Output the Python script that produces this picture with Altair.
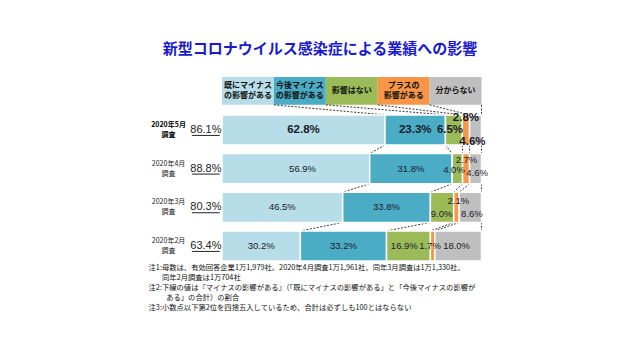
import altair as alt
import pandas as pd

# ---------------- data ----------------
title_text = "新型コロナウイルス感染症による業績への影響"
categories = ["既にマイナスの影響がある", "今後マイナスの影響がある", "影響はない",
              "プラスの影響がある", "分からない"]
header_labels = ["既にマイナス\nの影響がある", "今後マイナス\nの影響がある", "影響はない",
                 "プラスの\n影響がある", "分からない"]
colors = ["#b7dde8", "#4bacc6", "#9bbb59", "#f79646", "#bfbfbf"]
surveys = ["2020年5月\n調査", "2020年4月\n調査", "2020年3月\n調査", "2020年2月\n調査"]
minus_total = [86.1, 88.8, 80.3, 63.4]
already_minus = [62.8, 56.9, 46.5, 30.2]
future_minus = [23.3, 31.8, 33.8, 33.2]
no_effect = [6.5, 4.0, 9.0, 16.9]
plus_effect = [2.8, 2.7, 2.1, 1.7]
unknown = [4.6, 4.6, 8.6, 18.0]
series = [already_minus, future_minus, no_effect, plus_effect, unknown]
notes = [
    "注1:母数は、有効回答企業1万1,979社。2020年4月調査1万1,961社、同年3月調査は1万1,330社、",
    "同年2月調査は1万704社",
    "注2:下線の値は『マイナスの影響がある』（「既にマイナスの影響がある」と「今後マイナスの影響が",
    "ある」の合計）の割合",
    "注3:小数点以下第2位を四捨五入しているため、合計は必ずしも100とはならない",
]

# ---------------- layout (label nudges, in axis units) ----------------
label_dx = [[0, 0, -1.5, 0.0, -1.2],
            [2.6, 0, -1.3, 0.15, 0.6],
            [0, 0, -0.2, 0.75, 0.6],
            [0, 0, -1.6, -1.0, -0.6]]
label_dy = [[0, 0, 0, -0.31, 0.31],
            [0, 0, 0.03, -0.22, 0.12],
            [0, 0, 0.16, -0.16, 0.16],
            [0, 0, 0, 0, 0]]
BH = 0.39
HEAD_TOP, HEAD_BOT = -1.37, -0.65
FONT = "Noto Sans CJK JP"
NUM_FONT = "Liberation Sans Narrow, Arial Narrow, Liberation Sans, Noto Sans CJK JP"

xs = alt.Scale(domain=[-82.47, 157.99], nice=False, zero=False)
ys = alt.Scale(domain=[-3.155, 5.741], nice=False, zero=False, reverse=True)
cs = alt.Scale(domain=categories, range=colors)


def X(f):
    return alt.X(f, scale=xs, axis=None)


def Y(f):
    return alt.Y(f, scale=ys, axis=None)


# segments
seg_rows = []
for i in range(len(surveys)):
    start = 0.0
    for k, cat in enumerate(categories):
        v = series[k][i]
        seg_rows.append(dict(row=i, cat=cat, x0=start, x1=start + v,
                             y0=i - BH, y1=i + BH, label=f"{v:.1f}%",
                             lx=start + v / 2 + label_dx[i][k], ly=i + label_dy[i][k]))
        start += v
seg = pd.DataFrame(seg_rows)

# headers
head = pd.DataFrame(dict(cat=categories, label=header_labels,
                         x0=[20 * k for k in range(5)], x1=[20 * (k + 1) for k in range(5)],
                         xc=[20 * k + 10 for k in range(5)],
                         y0=HEAD_TOP, y1=HEAD_BOT,
                         yc=[(HEAD_TOP + HEAD_BOT) / 2 - (0.13 if "\n" in h else 0)
                             for h in header_labels]))

# connectors
conn_rows = []
first_bounds = []
c = 0.0
for k in range(5):
    c += series[k][0]
    first_bounds.append(c)
for k in range(5):
    conn_rows.append(dict(xa=20 * (k + 1), ya=HEAD_BOT, xb=first_bounds[k], yb=-BH))
for i in range(len(surveys) - 1):
    ca, cb = 0.0, 0.0
    for k in range(5):
        ca += series[k][i]
        cb += series[k][i + 1]
        conn_rows.append(dict(xa=ca, ya=i + BH, xb=cb, yb=i + 1 - BH))
conn = pd.DataFrame(conn_rows)

rowlab = pd.DataFrame(dict(row=list(range(4)), text=surveys, x=-20.6,
                           tot=[f"{t:.1f}%" for t in minus_total], tx=-6.2,
                           ux0=-11.6, ux1=-0.9,
                           y=[i - 0.13 for i in range(4)], ty=[i for i in range(4)],
                           uy=[i + 0.14 for i in range(4)]))

note_df = pd.DataFrame(dict(text=notes, x=[-28.3, -23.1, -28.3, -21.5, -28.3],
                            y=[3.57, 3.83, 4.09, 4.35, 4.60]))
title_df = pd.DataFrame(dict(text=[title_text], x=[37.8], y=[-2.09]))

# ---------------- layers ----------------
head_rect = alt.Chart(head).mark_rect().encode(
    x=X("x0:Q"), x2="x1", y=Y("y0:Q"), y2="y1",
    color=alt.Color("cat:N", scale=cs, legend=None))
head_text = alt.Chart(head).mark_text(font=FONT, fontSize=8, fontWeight="bold",
                                      lineBreak="\n", lineHeight=10, color="#111").encode(
    x=X("xc:Q"), y=Y("yc:Q"), text="label:N")

bars = alt.Chart(seg).mark_rect(stroke="white", strokeWidth=1.5).encode(
    x=X("x0:Q"), x2="x1", y=Y("y0:Q"), y2="y1",
    color=alt.Color("cat:N", scale=cs, legend=None))

lab_bold = alt.Chart(seg[seg.row == 0]).mark_text(
    font=NUM_FONT, fontSize=11.5, fontWeight="bold", color="#1a1a2a").encode(
    x=X("lx:Q"), y=Y("ly:Q"), text="label:N")
lab_norm = alt.Chart(seg[seg.row > 0]).mark_text(
    font=NUM_FONT, fontSize=9.5, color="#1a1a2a").encode(
    x=X("lx:Q"), y=Y("ly:Q"), text="label:N")

connectors = alt.Chart(conn).mark_rule(strokeDash=[2, 1.5], color="#222", strokeWidth=0.9).encode(
    x=X("xa:Q"), y=Y("ya:Q"), x2="xb", y2="yb")

row_bold = alt.Chart(rowlab[rowlab.row == 0]).mark_text(
    font=FONT, fontSize=7, fontWeight="bold", lineBreak="\n", lineHeight=10, color="#000").encode(
    x=X("x:Q"), y=Y("y:Q"), text="text:N")
row_norm = alt.Chart(rowlab[rowlab.row > 0]).mark_text(
    font=FONT, fontSize=7, lineBreak="\n", lineHeight=10, color="#222").encode(
    x=X("x:Q"), y=Y("y:Q"), text="text:N")
totals = alt.Chart(rowlab).mark_text(font=NUM_FONT, fontSize=11, color="#222").encode(
    x=X("tx:Q"), y=Y("ty:Q"), text="tot:N")
underline = alt.Chart(rowlab).mark_rule(color="#222", strokeWidth=1).encode(
    x=X("ux0:Q"), x2="ux1", y=Y("uy:Q"))

title = alt.Chart(title_df).mark_text(font=FONT, fontSize=15, fontWeight="bold",
                                      color="#1a1acc").encode(
    x=X("x:Q"), y=Y("y:Q"), text="text:N")
note_text = alt.Chart(note_df).mark_text(font=FONT, fontSize=7.3, align="left",
                                         color="#111").encode(
    x=X("x:Q"), y=Y("y:Q"), text="text:N")

chart = alt.layer(head_rect, head_text, connectors, bars, lab_bold, lab_norm,
                  row_bold, row_norm, totals, underline, title, note_text).properties(
    width=624, height=344, autosize="none", padding=0
).configure_view(strokeWidth=0)

chart.save("out.html", embed_options={"renderer": "svg", "actions": False})
